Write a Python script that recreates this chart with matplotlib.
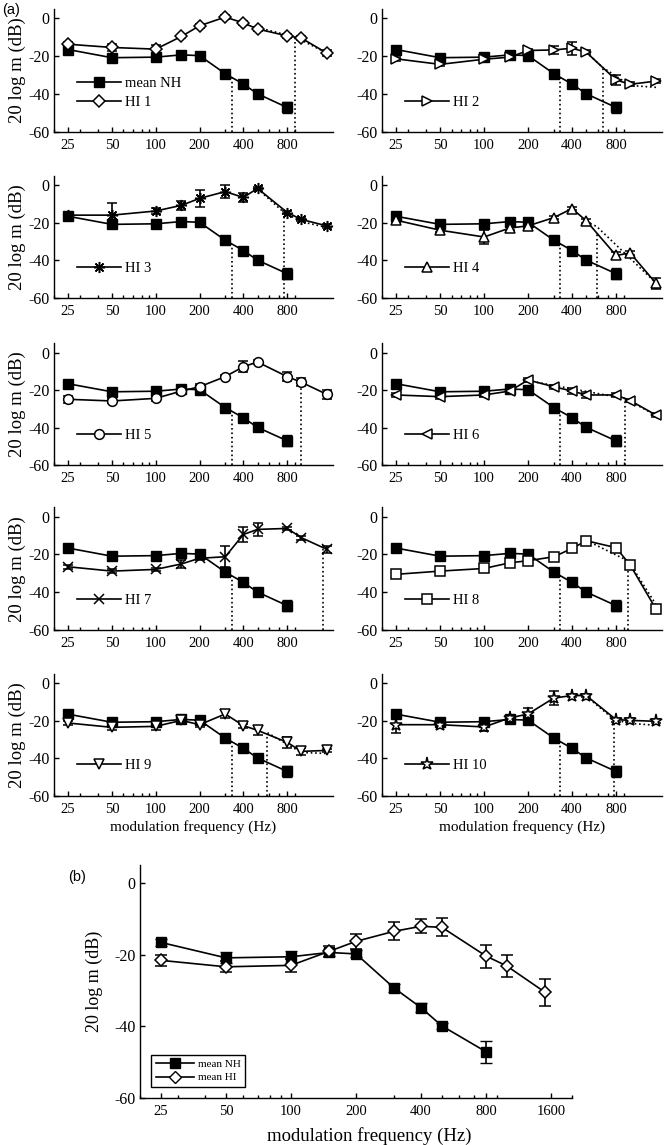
import numpy as np
import matplotlib
matplotlib.use('Agg')
import matplotlib.pyplot as plt
from matplotlib.lines import Line2D
from matplotlib.ticker import FixedLocator, LogLocator, NullFormatter

plt.rcParams.update({
    'font.family': 'Liberation Serif',
    'font.size': 10,
    'axes.unicode_minus': False,
    'axes.linewidth': 1.0,
})

# ── data ─────────────────────────────────────────────────────────────────
FREQ_NH = [25, 50, 100, 150, 200, 300, 400, 500, 800]
NH_MEAN = [-16.6, -20.9, -20.6, -19.4, -19.8, -29.3, -34.8, -39.9, -47.1]
NH_ERR = [1.0, 1.5, 1.7, 1.0, 1.0, 1.0, 1.3, 0.8, 3.0]
NH_CUTOFF = 332

FREQ_HI = [25, 50, 100, 150, 200, 300, 400, 500, 800, 1000, 1500]
HI1 = [-13.8, -15.5, -16.4, -9.7, -4.1, 0.5, -2.6, -5.8, -9.4, -10.6, -18.5]
HI2 = [-21.5, -24.4, -21.7, -20.6, -17.1, -16.8, -15.9, -18.0, -32.6, -34.9, -33.2]
HI3 = [-16.0, -16.0, -13.8, -10.8, -7.1, -3.5, -6.6, -1.8, -14.6, -18.3, -21.7]
HI4 = [-18.7, -24.0, -27.6, -22.8, -21.7, -17.3, -12.5, -19.0, -37.4, -36.1, -52.2]
HI5 = [-24.9, -25.8, -24.4, -20.5, -18.2, -12.8, -7.5, -5.0, -12.8, -15.8, -22.3]
HI6 = [-22.6, -23.5, -22.6, -20.5, -14.6, -18.2, -20.5, -22.6, -22.6, -25.6, -33.3]
HI7 = [-26.5, -28.8, -27.9, -25.0, -22.0, -21.2, -9.4, -6.7, -6.2, -11.1, -17.3]
HI8 = [-30.5, -28.8, -27.4, -24.4, -23.3, -21.2, -16.8, -12.7, -16.4, -25.6, -48.9]
HI9 = [-21.3, -23.6, -23.1, -19.9, -22.2, -16.5, -22.7, -25.2, -31.6, -36.4, -35.9]
HI10 = [-22.2, -22.2, -23.4, -18.6, -16.5, -8.0, -6.7, -6.7, -19.5, -19.9, -20.4]

HI1_ERR = [1, 2, 2.2, 1, 1, 1, 1, 1, 1, 1, 1.5]
HI2_ERR = [1, 1, 1, 1, 1, 2, 3.5, 1, 2.5, 1, 1]
HI3_ERR = [1, 6.5, 1.5, 2.5, 4.5, 3.5, 2.5, 1, 1, 1, 1]
HI4_ERR = [1, 1, 3.8, 1, 1, 1, 1, 1, 2, 1, 3]
HI5_ERR = [2, 1, 1.5, 1, 1.5, 1, 3, 1, 2.5, 2, 2.5]
HI6_ERR = [1, 1, 1, 1, 1, 1, 1.5, 1.5, 1, 1, 1]
HI7_ERR = [1, 1, 1, 2, 1, 5.5, 4, 3.5, 1, 1, 2]
HI8_ERR = [1, 1, 1, 1, 1, 1, 1, 1, 1.5, 1.5, 1]
HI9_ERR = [1, 1.5, 2, 1, 1, 2, 1, 2.5, 3, 2, 1]
HI10_ERR = [4.5, 1, 2, 1, 3, 3.5, 1, 1, 1, 1, 1]

HI_CUTOFF = [908, 648, 758, 589, 990, 923, 1402, 973, 585, 775]

# dotted model fits (visible parts only)
HI_FIT_F = [[500, 908, 1500], [500, 648, 1000, 1500], [500, 758, 1000, 1500],
            [500, 589, 1500], [], [200, 923, 1500], [],
            [500, 973, 1500], [585, 1000, 1500], [500, 775, 1000, 1500]]
HI_FIT_DB = [[-5.0, -10.0, -18.5], [-18.0, -26.0, -35.5, -36.5], [-2.0, -14.5, -19.5, -22.5],
             [-19.5, -22.0, -52.0], [], [-15.0, -24.5, -33.5], [],
             [-12.5, -23.5, -46.5], [-26.5, -37.0, -37.5], [-7.0, -19.5, -21.5, -22.5]]

HI_MEAN = [-21.6, -23.4, -23.0, -19.1, -16.3, -13.5, -12.1, -12.4, -20.4, -23.2, -30.5]
HI_MEAN_ERR = [1.5, 1.5, 1.8, 1.5, 2.0, 2.5, 2.0, 2.5, 3.2, 3.0, 3.8]

HI_ALL = [HI1, HI2, HI3, HI4, HI5, HI6, HI7, HI8, HI9, HI10]
HI_ALL_ERR = [HI1_ERR, HI2_ERR, HI3_ERR, HI4_ERR, HI5_ERR,
              HI6_ERR, HI7_ERR, HI8_ERR, HI9_ERR, HI10_ERR]
HI_MARKERS = ['D', '>', (8, 2, 0), '^', 'o', '<', 'x', 's', 'v', '*']
HI_MSIZE = [6, 7, 8, 7, 7, 7, 6.5, 6.5, 7, 9.5]

W, H = 664, 1145
fig = plt.figure(figsize=(W / 100, H / 100), dpi=100)


def px_axes(x0, y0, x1, y1):
    return fig.add_axes([x0 / W, 1 - y1 / H, (x1 - x0) / W, (y1 - y0) / H])


def style_axes(ax, xmax, xticks):
    ax.set_xscale('log')
    ax.set_xlim(20, xmax)
    ax.set_ylim(-60, 5)
    ax.xaxis.set_major_locator(FixedLocator(xticks))
    ax.set_xticklabels([str(t) for t in xticks])
    ax.xaxis.set_minor_locator(LogLocator(base=10, subs=np.arange(2, 10)))
    ax.xaxis.set_minor_formatter(NullFormatter())
    ax.set_yticks([-60, -40, -20, 0])
    ax.set_yticklabels(['-60', '-40', '-20', '0'])
    ax.tick_params(which='major', direction='in', length=3.5, width=1, labelsize=10.5)
    ax.tick_params(which='minor', direction='in', length=2, width=1)
    ax.tick_params(axis='x', pad=5)
    ax.tick_params(axis='y', pad=3, labelsize=11.5)
    for s in ['top', 'right']:
        ax.spines[s].set_visible(False)


def interp_log(fc, f, v):
    return np.interp(np.log(fc), np.log(f), v)


col_x = [(54, 333), (382, 662)]
row_y = [(8.5, 132), (175.6, 298), (343.3, 465), (507.3, 630), (673.6, 795.7)]

for i in range(10):
    r, c = divmod(i, 2)
    ax = px_axes(col_x[c][0], row_y[r][0], col_x[c][1], row_y[r][1])
    style_axes(ax, 1650, [25, 50, 100, 200, 400, 800])

    # cutoff lines and fits
    ax.plot([NH_CUTOFF] * 2, [-60, interp_log(NH_CUTOFF, FREQ_NH, NH_MEAN)],
            ':', color='k', lw=1.2, zorder=1)
    ax.plot([HI_CUTOFF[i]] * 2, [-60, interp_log(HI_CUTOFF[i], FREQ_HI, HI_ALL[i])],
            ':', color='k', lw=1.2, zorder=1)
    if HI_FIT_F[i]:
        ax.plot(HI_FIT_F[i], HI_FIT_DB[i], ':', color='k', lw=1.2, zorder=1)

    ax.errorbar(FREQ_NH, NH_MEAN, yerr=NH_ERR, color='k', lw=1.2, marker='s',
                ms=7, mfc='k', mec='k', capsize=3.6, elinewidth=1.2, zorder=3)
    ax.errorbar(FREQ_HI, HI_ALL[i], yerr=HI_ALL_ERR[i], color='k', lw=1.2,
                marker=HI_MARKERS[i], ms=HI_MSIZE[i], mfc='white', mec='k',
                mew=1.1, capsize=3.6, elinewidth=1.2, zorder=4)

    hi_handle = Line2D([], [], color='k', lw=1.2, marker=HI_MARKERS[i],
                       ms=HI_MSIZE[i], mfc='white', mec='k', mew=1.1)
    handles = [hi_handle]
    labels = [f'HI {i + 1}']
    if i == 0:
        nh_handle = Line2D([], [], color='k', lw=1.2, marker='s', ms=7, mfc='k')
        handles = [nh_handle, hi_handle]
        labels = ['mean NH', 'HI 1']
    ax.legend(handles, labels, loc='lower left', frameon=False, handlelength=3,
              borderaxespad=1.2, handletextpad=0.3, fontsize=10.5, labelspacing=0.35)

    if c == 0:
        ax.set_ylabel('20 log m (dB)', fontsize=13.5, labelpad=2)
    if r == 4:
        ax.set_xlabel('modulation frequency (Hz)', fontsize=11, labelpad=3)

# ── (b) group means ──────────────────────────────────────────────────────
ax = px_axes(140, 865, 572, 1098)
style_axes(ax, 2000, [25, 50, 100, 200, 400, 800, 1600])
ax.errorbar(FREQ_NH, NH_MEAN, yerr=NH_ERR, color='k', lw=1.2, marker='s',
            ms=6.5, mfc='k', mec='k', capsize=4.5, elinewidth=1.2, label='mean NH')
ax.errorbar(FREQ_HI, HI_MEAN, yerr=HI_MEAN_ERR, color='k', lw=1.2, marker='D',
            ms=6.5, mfc='white', mec='k', mew=1.1, capsize=4.5, elinewidth=1.2,
            label='mean HI')
ax.set_ylabel('20 log m (dB)', fontsize=13, labelpad=8)
ax.set_xlabel('modulation frequency (Hz)', fontsize=13.5)
ax.xaxis.set_label_coords(0.53, -0.125)
handles = [Line2D([], [], color='k', lw=1.2, marker='s', ms=6.5, mfc='k'),
           Line2D([], [], color='k', lw=1.2, marker='D', ms=6, mfc='white', mec='k')]
leg = ax.legend(handles, ['mean NH', 'mean HI'], loc='lower left', fontsize=8,
                handlelength=3.5, handletextpad=0.3, borderaxespad=1.0,
                fancybox=False, edgecolor='k', framealpha=1, labelspacing=0.3)
leg.get_frame().set_linewidth(1.0)

fig.text(2 / W, 1 - 10 / H, '(a)', family='Liberation Sans', fontsize=10.5,
         ha='left', va='center')
fig.text(68 / W, 1 - 877 / H, '(b)', family='Liberation Sans', fontsize=10.5,
         ha='left', va='center')

fig.savefig('out.png', dpi=100)
plt.close(fig)
